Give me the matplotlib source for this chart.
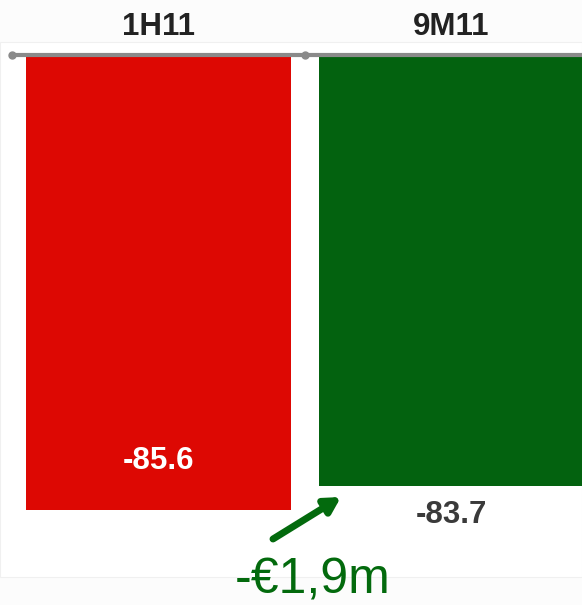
import matplotlib
matplotlib.use("Agg")
import matplotlib.pyplot as plt
from matplotlib.patches import Rectangle

# Data
periods = ["1H11", "9M11"]
values = [-85.6, -83.7]
value_labels = ["-85.6", "-83.7"]
change_label = "-€1,9m"

bar_colors = ["#DD0803", "#03620F"]
label_colors = ["#FFFFFF", "#3A3A3A"]
accent = "#036A0D"

plt.rcParams["font.family"] = ["Liberation Sans", "DejaVu Sans"]

W, H = 582, 605
fig = plt.figure(figsize=(W / 100, H / 100), dpi=100)
fig.patch.set_facecolor("#FCFCFC")

# white panel behind the chart
fig.patches.append(Rectangle((0, 1 - 577 / H), 1, (577 - 42) / H,
                             transform=fig.transFigure, facecolor="white",
                             edgecolor="#F0F0F0", lw=0.8, zorder=0))

PT = 72 / 100  # points per pixel

# axes spanning the two category slots (right slot runs past the edge)
left_px, right_px = 12, 598
top_px, bot_px = 55, 600
ax = fig.add_axes([left_px / W, 1 - bot_px / H, (right_px - left_px) / W,
                   (bot_px - top_px) / H])
ax.set_zorder(2)
ax.set_facecolor("none")

y_top = -49.7
px_per_unit = (510 - top_px) / (y_top - values[0])
y_bot = y_top - (bot_px - top_px) / px_per_unit
ax.set_xlim(-0.5, 1.5)
ax.set_ylim(y_bot, y_top)

x = list(range(len(periods)))
ax.bar(x, values, width=0.905, color=bar_colors, zorder=2)

for s in ax.spines.values():
    s.set_visible(False)
ax.set_xticks([])
ax.set_yticks([])

# category axis along the top
ax.plot([-0.5, 1.5], [y_top, y_top], color="#8A8A8A", lw=3,
        clip_on=False, zorder=3, solid_capstyle="butt")
ax.plot([-0.5, 0.5], [y_top, y_top], "o", color="#8A8A8A", ms=5,
        clip_on=False, zorder=3)

for xi, p in zip(x, periods):
    ax.annotate(p, (xi, y_top), xytext=(0, 28 * PT), textcoords="offset points",
                ha="center", va="center", fontsize=22.5, fontweight="bold",
                color="#222222", annotation_clip=False)

# value labels: inside the first bar, below the second
ax.annotate(value_labels[0], (x[0], values[0]), xytext=(0, 49 * PT),
            textcoords="offset points", ha="center", va="center",
            fontsize=22.5, fontweight="bold", color=label_colors[0])
ax.annotate(value_labels[1], (x[1], values[1]), xytext=(0, -29 * PT),
            textcoords="offset points", ha="center", va="center",
            fontsize=22.5, fontweight="bold", color=label_colors[1])

# change arrow and label
ax.annotate("", xy=(341 / W, 1 - 497 / H), xytext=(273 / W, 1 - 539 / H),
            xycoords="figure fraction", textcoords="figure fraction",
            arrowprops=dict(arrowstyle="-|>,head_length=0.9,head_width=0.5",
                        color=accent, lw=5, shrinkA=0, shrinkB=0))
fig.text(313 / W, 1 - 581 / H, change_label, ha="center", va="center",
         fontsize=36, color=accent, zorder=3)

fig.savefig("out.png", dpi=100, facecolor=fig.get_facecolor())
